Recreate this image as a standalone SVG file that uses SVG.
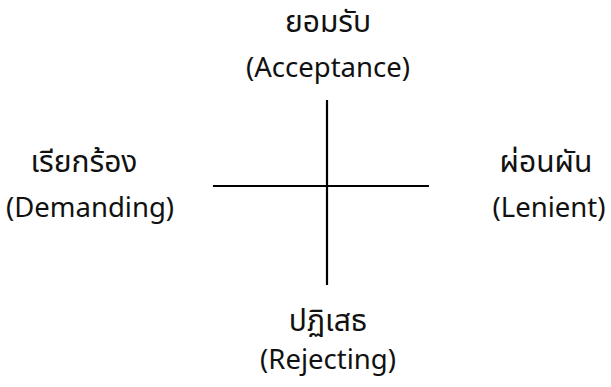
<svg xmlns="http://www.w3.org/2000/svg" width="611" height="387" viewBox="0 0 611 387">
<style>
text{font-family:"Noto Sans","Noto Sans Thai","DejaVu Sans",sans-serif;fill:#111;text-anchor:middle}
.th{font-size:30px}
.en{font-size:27.5px}
.ax{stroke:#000;stroke-width:2.2;fill:none}
</style>
<rect width="611" height="387" fill="#fff"/>
<g id="connectors">
<line class="ax" x1="327" y1="100" x2="327" y2="285"/>
<line class="ax" x1="213" y1="186" x2="429" y2="186"/>
</g>
<g id="top"><text class="th" x="328" y="32">ยอมรับ</text><text class="en" x="328" y="77">(Acceptance)</text></g>
<g id="left"><text class="th" x="84" y="172">เรียกร้อง</text><text class="en" x="90" y="217">(Demanding)</text></g>
<g id="right"><text class="th" x="546" y="172">ผ่อนผัน</text><text class="en" x="549" y="217">(Lenient)</text></g>
<g id="bottom"><text class="th" x="328" y="331">ปฏิเสธ</text><text class="en" x="328" y="369">(Rejecting)</text></g>
</svg>
